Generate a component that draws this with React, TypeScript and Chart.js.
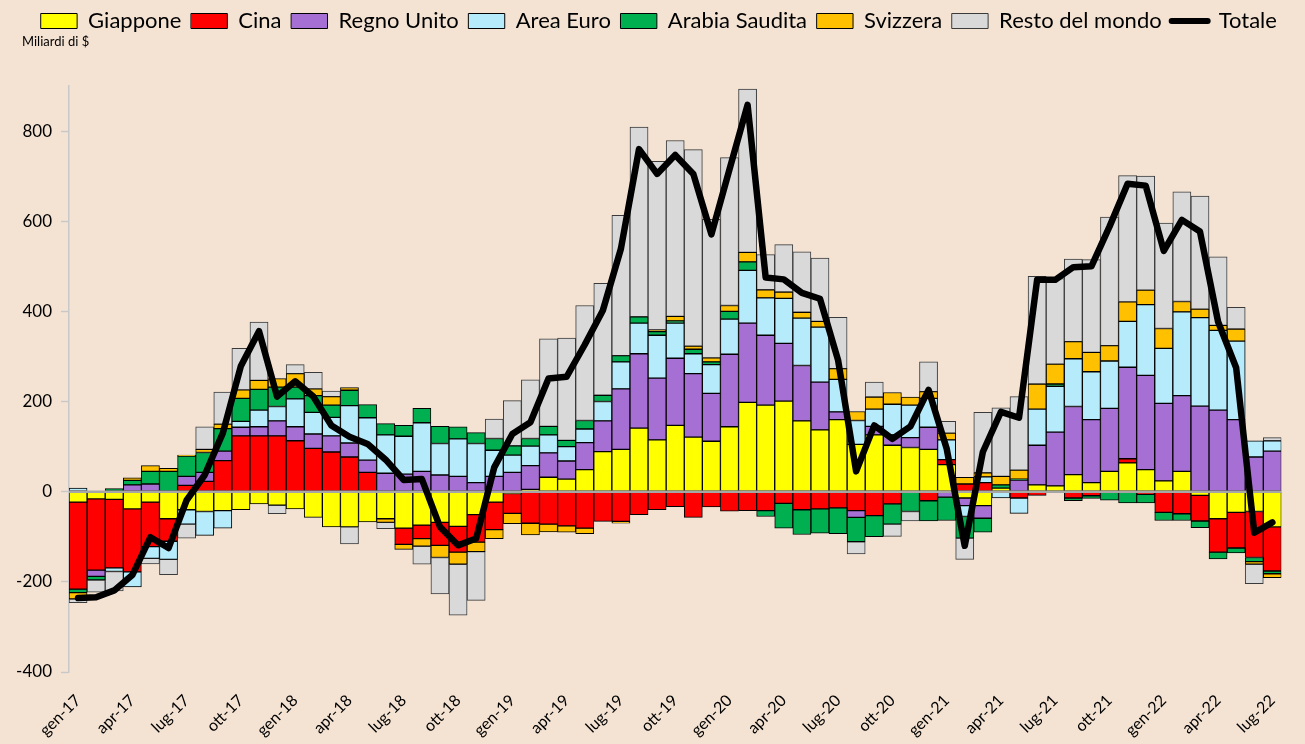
import React, { useEffect, useRef } from 'react';
import { Chart, registerables } from 'chart.js';

Chart.register(...registerables);

const BG = '#F4E3D3';

const labels = [
  'gen-17','feb-17','mar-17','apr-17','mag-17','giu-17','lug-17','ago-17','set-17','ott-17','nov-17','dic-17',
  'gen-18','feb-18','mar-18','apr-18','mag-18','giu-18','lug-18','ago-18','set-18','ott-18','nov-18','dic-18',
  'gen-19','feb-19','mar-19','apr-19','mag-19','giu-19','lug-19','ago-19','set-19','ott-19','nov-19','dic-19',
  'gen-20','feb-20','mar-20','apr-20','mag-20','giu-20','lug-20','ago-20','set-20','ott-20','nov-20','dic-20',
  'gen-21','feb-21','mar-21','apr-21','mag-21','giu-21','lug-21','ago-21','set-21','ott-21','nov-21','dic-21',
  'gen-22','feb-22','mar-22','apr-22','mag-22','giu-22','lug-22',
];

const giappone = [-23,-16,-17,-38,-23,-60,-40,-44,-42,-40,-27,-30,-38,-57,-78,-78,-67,-60,-81,-74,-68,-77,-51,-23,-4,5,32,28,49,89,94,141,115,147,121,112,144,198,192,201,157,137,160,105,126,103,98,94,60,-14,-31,8,0,15,13,38,20,45,64,49,24,45,-8,-60,-46,-44,-78];
const cina = [-193,-158,-152,-140,-99,-50,14,23,69,124,124,124,113,96,88,77,43,0,-36,-30,-51,-57,-61,-61,-44,-70,-72,-76,-81,-66,-66,-51,-40,-33,-57,-34,-43,-42,-42,-26,-40,-38,-36,-42,-53,-27,0,-20,11,17,20,0,-14,-8,0,-14,-9,0,9,-6,-46,-49,-57,-74,-79,-102,-98];
const regnoUnito = [0,-14,0,15,17,0,20,20,21,19,20,33,31,32,36,31,27,41,39,45,37,34,20,34,43,53,54,40,60,68,134,165,137,149,141,106,161,176,155,128,123,106,17,-15,19,23,22,49,-12,-17,-28,0,26,88,119,151,140,140,203,209,172,168,190,181,160,77,90];
const areaEuro = [8,0,-8,-33,-26,-40,-32,-53,-39,13,37,32,62,48,41,83,94,85,84,108,70,83,87,58,38,43,40,32,30,43,60,68,95,78,44,64,78,117,83,100,105,122,72,53,38,68,72,64,44,-24,13,-14,-34,80,102,106,106,105,102,157,122,186,196,177,174,36,23];
const arabiaSaudita = [-8,-8,7,10,28,45,45,44,50,51,46,43,26,37,27,34,29,25,24,32,38,27,24,26,21,17,19,14,19,14,14,14,8,5,10,6,17,19,-13,-55,-55,-54,-57,-54,-47,-45,-44,-45,-52,-48,-31,7,2,0,5,-6,-6,-19,-25,-19,-18,-15,-15,-15,-11,-9,-6];
const svizzera = [-14,0,0,6,13,7,2,7,10,19,20,19,30,15,19,6,0,-8,-11,-17,-27,-27,-21,-20,-23,-26,-17,-14,-12,0,-4,0,4,10,7,9,13,21,18,14,13,13,24,20,27,26,18,15,15,15,9,19,20,56,44,38,43,34,43,32,44,23,19,11,27,-6,-9];
const restoMondo = [-8,-27,-43,0,-12,-34,-31,50,71,92,129,-19,20,37,12,-38,0,-14,0,-40,-81,-113,-108,43,100,130,194,227,255,248,311,421,374,390,436,307,328,362,78,105,134,140,114,-27,33,-27,-21,66,26,-47,134,152,163,239,190,183,206,285,280,253,234,243,251,152,48,-43,7];
const totale = [-236,-234,-219,-185,-101,-125,-19,37,130,279,356,211,245,211,147,122,106,71,26,28,-78,-119,-104,54,128,154,251,255,326,402,539,760,705,747,705,571,715,858,475,471,441,428,292,45,147,117,145,226,96,-120,88,177,164,470,470,498,500,588,683,679,534,603,577,377,275,-91,-68];

const yTicks = [-400, -200, 0, 200, 400, 600, 800];

const FONT = 'Lato';

const zeroLinePlugin = {
  id: 'zeroLine',
  afterLayout(chart: any) {
    // let the y tick labels (e.g. "-400") extend left without being clipped
    chart.scales.y.left = 0;
  },
  beforeDatasetDraw(chart: any, args: any) {
    if (args.meta.type !== 'line') return;
    const { ctx, chartArea, scales } = chart;
    const y = scales.y.getPixelForValue(0);
    ctx.save();
    ctx.strokeStyle = '#a6a6a6';
    ctx.lineWidth = 2.5;
    ctx.beginPath();
    ctx.moveTo(chartArea.left, y);
    ctx.lineTo(chartArea.right, y);
    ctx.stroke();
    ctx.restore();
  },
};

function barDs(label: string, data: number[], color: string, border = '#000') {
  return {
    type: 'bar' as const,
    label,
    data,
    backgroundColor: color,
    borderColor: border,
    borderWidth: 1,
    borderSkipped: false,
    barPercentage: 1,
    categoryPercentage: 1,
    order: 1,
    stack: 's',
  };
}

export default function App() {
  const ref = useRef<HTMLCanvasElement>(null);

  useEffect(() => {
    document.body.style.margin = '0';
    document.body.style.background = BG;
    const chart = new Chart(ref.current as HTMLCanvasElement, {
      type: 'bar',
      data: {
        labels,
        datasets: [
          barDs('Giappone', giappone, '#FFFF00'),
          barDs('Cina', cina, '#FF0000'),
          barDs('Regno Unito', regnoUnito, '#A66FD3'),
          barDs('Area Euro', areaEuro, '#B5EBFB'),
          barDs('Arabia Saudita', arabiaSaudita, '#00B050'),
          barDs('Svizzera', svizzera, '#FFC000'),
          barDs('Resto del mondo', restoMondo, '#D9D9D9', '#3a3a3a'),
          {
            type: 'line' as const,
            label: 'Totale',
            data: totale,
            borderColor: '#000',
            backgroundColor: '#000',
            borderWidth: 6.5,
            pointRadius: 0,
            pointHoverRadius: 0,
            tension: 0,
            order: 0,
            borderJoinStyle: 'round',
            borderCapStyle: 'round',
          } as any,
        ],
      },
      options: {
        responsive: false,
        animation: false,
        layout: { padding: { left: 22, right: 9, top: 0, bottom: 0 } },
        plugins: {
          tooltip: { enabled: false },
          legend: {
            display: true,
            position: 'top',
            labels: {
              usePointStyle: true,
              pointStyleWidth: 36,
              boxWidth: 36,
              boxHeight: 15,
              padding: 10,
              color: '#000',
              font: { family: FONT, size: 22 },
              sort: (a: any, b: any) => a.datasetIndex - b.datasetIndex,
              generateLabels: (chart: any) => {
                const items = (Chart.defaults.plugins.legend.labels as any).generateLabels(chart);
                return items.map((it: any) => ({
                  ...it,
                  pointStyle: it.datasetIndex === 7 ? 'line' : 'rect',
                  lineWidth: it.datasetIndex === 7 ? 6 : 1,
                  lineCap: 'round',
                  strokeStyle: it.datasetIndex === 6 ? '#3a3a3a' : '#000',
                }));
              },
            },
          },
          subtitle: {
            display: true,
            text: 'Miliardi di $',
            align: 'start',
            color: '#000',
            font: { family: FONT, size: 13, weight: 'normal', lineHeight: 1 },
            padding: { top: -6.5, bottom: 37.5 },
            weight: 500,
          } as any,
        },
        scales: {
          x: {
            stacked: true,
            afterFit: (s: any) => { s.height = 72; },
            grid: { display: false, drawTicks: false },
            border: { display: false },
            ticks: {
              autoSkip: false,
              maxRotation: 45,
              minRotation: 45,
              padding: 19,
              color: '#000',
              font: { family: FONT, size: 16 },
              callback: (_v: any, i: number) => (i % 3 === 0 ? labels[i] : ''),
            },
          },
          y: {
            stacked: true,
            min: -400,
            max: 900,
            afterBuildTicks: (s: any) => { s.ticks = yTicks.map((v) => ({ value: v })); },
            afterFit: (s: any) => { s.width = 47; },
            grid: { drawOnChartArea: false, drawTicks: true, tickLength: 8, tickColor: '#c8c8c8', tickWidth: 1.5 },
            border: { display: true, color: '#c8c8c8', width: 1.5 },
            ticks: {
              color: '#000',
              padding: 9,
              font: { family: FONT, size: 17 },
              callback: (v: any) => (Number(v) < 0 ? '-' + String(Math.abs(Number(v))) : String(v)),
            },
          },
        },
      } as any,
      plugins: [zeroLinePlugin],
    });
    return () => chart.destroy();
  }, []);

  return (
    <canvas
      ref={ref}
      width={1305}
      height={744}
      style={{ display: 'block', background: BG }}
    />
  );
}
